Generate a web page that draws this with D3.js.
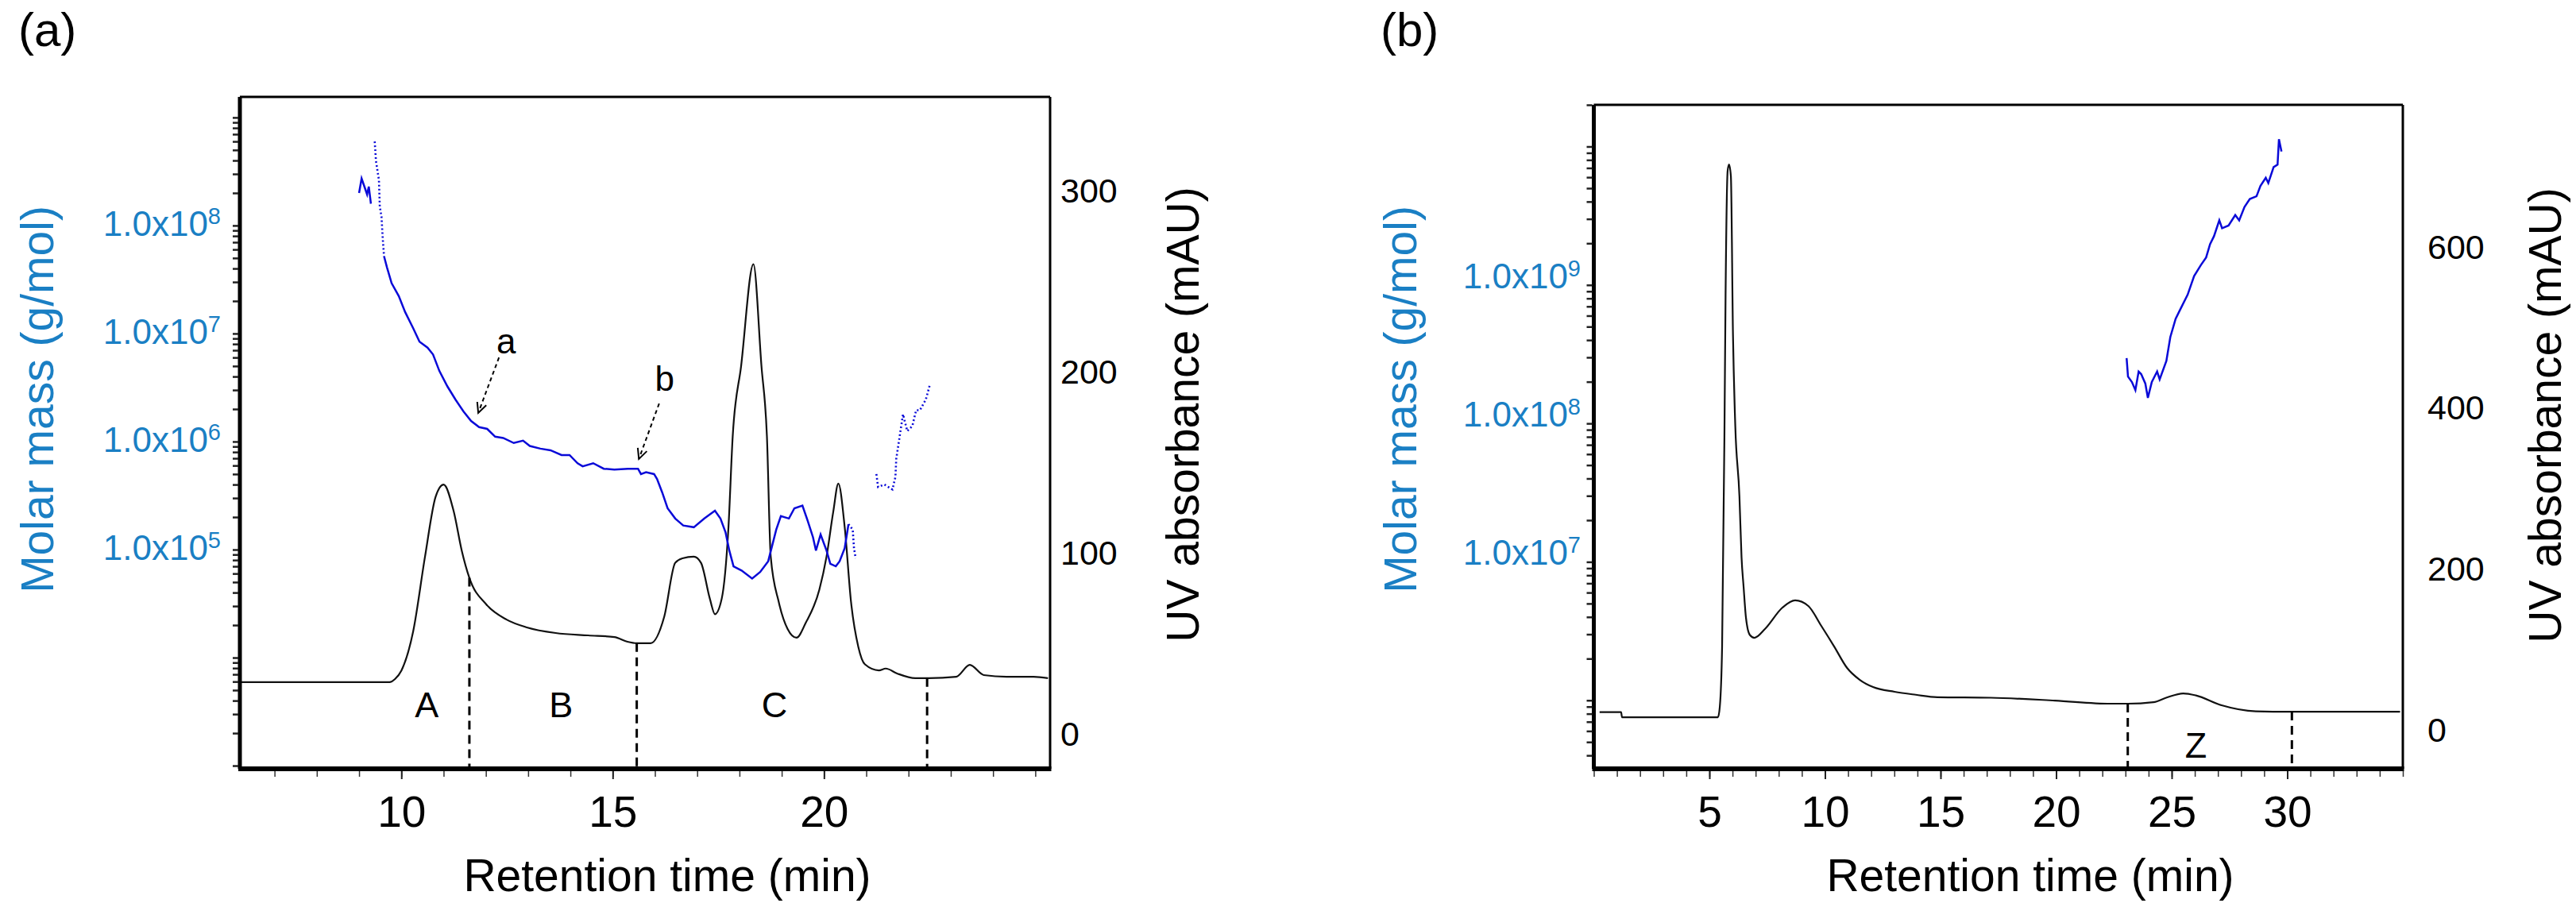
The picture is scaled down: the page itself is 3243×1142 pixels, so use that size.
<!DOCTYPE html>
<html>
<head>
<meta charset="utf-8">
<script src="https://d3js.org/d3.v7.min.js"></script>
<style>
  body { margin: 0; background: #fff; }
  svg { display: block; }
  text { font-family: "Liberation Sans", Arial, sans-serif; }
</style>
</head>
<body>
<svg id="chart" width="3243" height="1142"></svg>
<script>
// ---- panel (a): UV trace (min, mAU) ----
const uvATime  = [6.18, 9.72, 9.85, 10.0, 10.28, 10.56, 10.81, 11.0, 11.24, 11.43, 11.61, 12.01, 12.49, 12.97, 13.65, 14.42, 15.04, 15.35, 15.57, 15.9, 16.22, 16.48, 16.65, 16.92, 17.09, 17.3, 17.42, 17.58, 17.74, 17.84, 18.04, 18.33, 18.52, 18.65, 18.74, 18.93, 19.14, 19.35, 19.57, 19.89, 20.06, 20.22, 20.34, 20.49, 20.64, 20.81, 20.97, 21.3, 21.46, 21.73, 22.16, 22.48, 23.13, 23.45, 23.78, 24.32, 24.96, 25.3];
const uvAValue = [28.5, 28.5, 30.2, 34.8, 56.5, 97.7, 130.7, 137.5, 122.6, 101, 86, 71.4, 63, 58.7, 55.6, 54.3, 53.4, 50.8, 50, 50, 64.6, 94.3, 96.8, 97.7, 94.3, 74.5, 66, 74.5, 114, 164, 203, 259, 203, 164, 97.7, 72.7, 57.8, 53, 61.3, 79.5, 97.7, 122.6, 138, 114, 72.7, 48.2, 38.3, 35, 36, 33.3, 30.7, 30.7, 31.5, 38, 32.4, 31.5, 31.5, 30.7];

// ---- panel (a): molar mass (min, g/mol) ----
const massAStart = [[9.00, 2.0e8], [9.06, 2.72e8], [9.19, 1.94e8], [9.23, 2.29e8], [9.28, 1.59e8]];
const massADotted = [[9.37, 6.0e8], [9.40, 3.95e8], [9.47, 2.64e8], [9.49, 1.5e8], [9.53, 1.21e8], [9.56, 7.6e7], [9.59, 5.2e7]];
const massAMain = [[9.59, 5.2e7], [9.66, 4.1e7], [9.77, 2.92e7], [9.94, 2.22e7], [10.09, 1.58e7], [10.28, 1.12e7], [10.43, 8.4e6], [10.62, 7.4e6], [10.75, 6.4e6], [10.90, 4.5e6], [11.09, 3.24e6], [11.28, 2.45e6], [11.47, 1.9e6], [11.65, 1.55e6], [11.84, 1.36e6], [12.03, 1.31e6], [12.22, 1.11e6], [12.41, 1.08e6], [12.66, 9.7e5], [12.88, 1.02e6], [13.04, 9.1e5], [13.29, 8.6e5], [13.53, 8.3e5], [13.79, 7.5e5], [13.98, 7.5e5], [14.17, 6.3e5], [14.29, 5.9e5], [14.54, 6.3e5], [14.79, 5.6e5], [15.04, 5.5e5], [15.36, 5.6e5], [15.60, 5.6e5], [15.67, 5.0e5], [15.79, 5.2e5], [15.98, 5.0e5], [16.05, 4.5e5], [16.17, 3.4e5], [16.30, 2.41e5], [16.48, 1.94e5], [16.67, 1.67e5], [16.92, 1.61e5], [17.17, 1.94e5], [17.42, 2.29e5], [17.55, 1.94e5], [17.67, 1.45e5], [17.76, 9.8e4], [17.86, 7.0e4], [18.05, 6.4e4], [18.30, 5.4e4], [18.49, 6.2e4], [18.68, 7.8e4], [18.87, 1.53e5], [18.98, 2.04e5], [19.17, 1.94e5], [19.30, 2.41e5], [19.49, 2.55e5], [19.62, 1.82e5], [19.74, 1.3e5], [19.81, 9.8e4], [19.92, 1.38e5], [20.06, 9.8e4], [20.15, 7.4e4], [20.28, 7.0e4], [20.37, 7.8e4], [20.49, 1.03e5], [20.58, 1.72e5]];
const massATail = [[20.58, 1.72e5], [20.68, 1.53e5], [20.71, 1.03e5], [20.75, 8.3e4]];
const massALate = [[21.24, 5.0e5], [21.28, 3.8e5], [21.43, 4.0e5], [21.62, 3.6e5], [21.69, 4.7e5], [21.71, 6.9e5], [21.78, 1.05e6], [21.87, 1.79e6], [21.97, 1.25e6], [22.09, 1.39e6], [22.18, 1.95e6], [22.27, 1.95e6], [22.41, 2.45e6], [22.50, 3.3e6]];

// ---- panel (b): UV trace ----
const uvBTime  = [0.25, 1.18, 1.22, 5.37, 5.45, 5.55, 5.65, 5.70, 5.79, 5.85, 5.93, 6.02, 6.12, 6.30, 6.39, 6.48, 6.58, 6.75, 6.95, 7.41, 8.16, 8.71, 9.28, 9.84, 10.40, 10.95, 11.51, 12.08, 13.01, 13.93, 14.86, 17.18, 19.95, 22.35, 23.1, 24.21, 24.76, 25.5, 26.05, 27.16, 28.64, 30.12, 34.88];
const uvBValue = [21.1, 21.1, 14.8, 14.8, 27.6, 102.6, 363, 539, 694, 701.7, 687, 490.5, 377, 289, 214, 176.7, 139, 117, 113.5, 124.6, 151, 160, 153, 128.3, 102.6, 76.3, 61.2, 52.3, 46.4, 42.7, 39.7, 39, 35.5, 31.6, 31.6, 33.5, 39, 44.4, 41.9, 29.6, 22.2, 21.7, 21.7];

// ---- panel (b): molar mass ----
const massB = [[23.05, 2.96e8], [23.11, 2.18e8], [23.28, 1.99e8], [23.43, 1.74e8], [23.57, 2.37e8], [23.68, 2.27e8], [23.86, 1.94e8], [23.97, 1.53e8], [24.14, 1.99e8], [24.37, 2.37e8], [24.48, 2.08e8], [24.77, 2.83e8], [24.94, 4.2e8], [25.17, 5.7e8], [25.34, 6.5e8], [25.69, 8.5e8], [25.97, 1.16e9], [26.26, 1.39e9], [26.49, 1.58e9], [26.66, 1.97e9], [26.83, 2.25e9], [27.06, 2.93e9], [27.18, 2.57e9], [27.46, 2.69e9], [27.75, 3.2e9], [27.92, 2.93e9], [28.15, 3.66e9], [28.38, 4.18e9], [28.67, 4.37e9], [28.84, 5.2e9], [29.07, 5.95e9], [29.18, 5.45e9], [29.41, 7.1e9], [29.58, 7.4e9], [29.64, 1.13e10], [29.75, 9.2e9]];

// ---- ticks, labels, annotations ----
const timeTicksA = [10, 15, 20];
const timeTicksB = [5, 10, 15, 20, 25, 30];
const uvTicksA = [0, 100, 200, 300];
const uvTicksB = [0, 200, 400, 600];
const massLabelsA = [1e5, 1e6, 1e7, 1e8];
const massLabelsB = [1e7, 1e8, 1e9];
const fractionsA = [{ t: 11.61, top: 86 }, { t: 15.57, top: 50 }, { t: 22.44, top: 30.7 }];
const fractionsB = [{ t: 23.1, top: 31.6 }, { t: 30.2, top: 21.7 }];
const regionNamesA = [{ t: 10.6, uv: 9, name: "A" }, { t: 13.78, uv: 9, name: "B" }, { t: 18.83, uv: 9, name: "C" }];
const regionNamesB = [{ t: 26.05, uv: -35.5, name: "Z" }];
const arrowsA = [
  { tipT: 11.82, tipM: 1.84e6, tailT: 12.31, tailM: 6.0e6, labT: 12.48, labM: 6.5e6, name: "a" },
  { tipT: 15.62, tipM: 6.9e5, tailT: 16.10, tailM: 2.25e6, labT: 16.23, labM: 2.95e6, name: "b" }
];

const svg = d3.select("#chart");
const blueText = "#1a7fc4";
const blueLine = "#0a0ad8";

function drawPanel(p) {
  const x = d3.scaleLinear().domain(p.xDomain).range([p.left, p.right]);
  const yUV = d3.scaleLinear().domain(p.uvDomain).range([p.bottom, p.top]);
  const yM = d3.scaleLog().domain(p.massDomain).range([p.bottom, p.top]);
  const g = svg.append("g");

  g.append("clipPath").attr("id", "clip-" + p.id)
    .append("rect")
    .attr("x", p.left).attr("y", p.top)
    .attr("width", p.right - p.left).attr("height", p.bottom - p.top);
  const plot = g.append("g").attr("clip-path", `url(#clip-${p.id})`);

  // UV chromatogram
  const uvLine = d3.line()
    .x(d => x(d[0])).y(d => yUV(d[1]))
    .curve(d3.curveMonotoneX);
  plot.append("path")
    .datum(d3.zip(p.uvTime, p.uvValue))
    .attr("d", uvLine)
    .attr("fill", "none").attr("stroke", "#111").attr("stroke-width", 2.2);

  // molar mass traces
  const mLine = d3.line().x(d => x(d[0])).y(d => yM(d[1]));
  p.mass.forEach(seg => {
    plot.append("path")
      .datum(seg.points)
      .attr("d", mLine)
      .attr("fill", "none")
      .attr("stroke", blueLine)
      .attr("stroke-width", seg.dotted ? 2.6 : 2.5)
      .attr("stroke-dasharray", seg.dotted ? "2,3" : null);
  });

  // fraction cut lines
  g.selectAll(null).data(p.fractions).join("line")
    .attr("x1", d => x(d.t)).attr("x2", d => x(d.t))
    .attr("y1", d => yUV(d.top)).attr("y2", p.bottom)
    .attr("stroke", "#000").attr("stroke-width", 3).attr("stroke-dasharray", "11,7");

  g.selectAll(null).data(p.regions).join("text")
    .attr("x", d => x(d.t)).attr("y", d => yUV(d.uv))
    .attr("text-anchor", "middle").attr("font-size", 45)
    .text(d => d.name);

  // arrows
  (p.arrows || []).forEach(a => {
    const x1 = x(a.tailT), y1 = yM(a.tailM), x2 = x(a.tipT), y2 = yM(a.tipM);
    g.append("line")
      .attr("x1", x1).attr("y1", y1).attr("x2", x2).attr("y2", y2)
      .attr("stroke", "#000").attr("stroke-width", 2).attr("stroke-dasharray", "5,4");
    const ang = Math.atan2(y1 - y2, x1 - x2);
    const head = [ang - 0.45, ang + 0.45].map(b => [x2 + 14 * Math.cos(b), y2 + 14 * Math.sin(b)]);
    g.append("path")
      .attr("d", `M${head[0]}L${x2},${y2}L${head[1]}`)
      .attr("fill", "none").attr("stroke", "#000").attr("stroke-width", 2);
    g.append("text")
      .attr("x", x(a.labT)).attr("y", yM(a.labM))
      .attr("text-anchor", "middle").attr("font-size", 44)
      .text(a.name);
  });

  // frame
  const frame = [
    [p.left, p.top, p.right, p.top, 3],
    [p.right, p.top, p.right, p.bottom, 3],
    [p.left, p.top, p.left, p.bottom, 5],
    [p.left - 2, p.bottom, p.right + 1.5, p.bottom, 6]
  ];
  g.selectAll(null).data(frame).join("line")
    .attr("x1", d => d[0]).attr("y1", d => d[1]).attr("x2", d => d[2]).attr("y2", d => d[3])
    .attr("stroke", "#000").attr("stroke-width", d => d[4]);

  // bottom axis: minor ticks every minute, labelled majors
  const minor = d3.range(Math.ceil(p.xDomain[0]), Math.floor(p.xDomain[1]) + 1);
  g.append("g")
    .attr("transform", `translate(0,${p.bottom + 3})`)
    .call(d3.axisBottom(x).tickValues(minor).tickSize(7).tickFormat(""))
    .call(a => a.select(".domain").remove())
    .selectAll("line").attr("stroke", "#333").attr("stroke-width", 1.5);
  g.append("g")
    .attr("transform", `translate(0,${p.bottom + 3})`)
    .call(d3.axisBottom(x).tickValues(p.timeTicks).tickSize(10).tickPadding(21))
    .call(a => a.select(".domain").remove())
    .call(a => a.selectAll("line").attr("stroke", "#222").attr("stroke-width", 2))
    .call(a => a.selectAll("text").attr("font-size", 55).attr("fill", "#000")
      .attr("font-family", "'Liberation Sans', Arial, sans-serif"));

  // left log axis ticks
  g.append("g")
    .attr("transform", `translate(${p.left - 2},0)`)
    .call(d3.axisLeft(yM).tickValues(yM.ticks()).tickSize(7).tickFormat(""))
    .call(a => a.select(".domain").remove())
    .selectAll("line").attr("stroke", "#222").attr("stroke-width", 2.5);

  // left labels 1.0x10^n
  const ml = g.selectAll(null).data(p.massLabels).join("text")
    .attr("x", p.massLabelX).attr("y", d => yM(d) + p.massLabelShift)
    .attr("text-anchor", "end").attr("fill", blueText).attr("font-size", 44)
    .attr("dy", "0.36em");
  ml.append("tspan").text("1.0x10");
  ml.append("tspan").attr("font-size", 29).attr("dy", -15)
    .text(d => Math.round(Math.log10(d)));

  // right UV labels
  g.selectAll(null).data(p.uvTicks).join("text")
    .attr("x", p.right + p.uvLabelGap).attr("y", d => yUV(d))
    .attr("dy", "0.36em").attr("font-size", 43)
    .text(d => d);

  // axis titles
  g.append("text")
    .attr("x", p.xTitle[0]).attr("y", p.xTitle[1])
    .attr("text-anchor", "middle").attr("font-size", 57)
    .text("Retention time (min)");
  g.append("text")
    .attr("transform", `translate(${p.massTitle[0]},${p.massTitle[1]}) rotate(-90)`)
    .attr("text-anchor", "middle").attr("font-size", 57).attr("fill", blueText)
    .text("Molar mass (g/mol)");
  g.append("text")
    .attr("transform", `translate(${p.uvTitle[0]},${p.uvTitle[1]}) rotate(-90)`)
    .attr("text-anchor", "middle").attr("font-size", 57)
    .text("UV absorbance (mAU)");

  g.append("text")
    .attr("x", p.tag[0]).attr("y", p.tag[1])
    .attr("font-size", 60)
    .text(p.tagText);
}

drawPanel({
  id: "a", left: 302, right: 1322, top: 122, bottom: 968,
  xDomain: [6.18, 25.35], uvDomain: [-19.3, 351.3], massDomain: [935, 1.55e9],
  uvTime: uvATime, uvValue: uvAValue,
  mass: [
    { points: massAStart, dotted: false },
    { points: massADotted, dotted: true },
    { points: massAMain, dotted: false },
    { points: massATail, dotted: true },
    { points: massALate, dotted: true }
  ],
  fractions: fractionsA, regions: regionNamesA, arrows: arrowsA,
  timeTicks: timeTicksA, uvTicks: uvTicksA, massLabels: massLabelsA,
  massLabelX: 278, massLabelShift: -3, uvLabelGap: 13,
  xTitle: [840, 1122], massTitle: [67, 503], uvTitle: [1509, 522],
  tag: [23, 58], tagText: "(a)"
});

drawPanel({
  id: "b", left: 2006.5, right: 3025, top: 132, bottom: 968,
  xDomain: [0, 35], uvDomain: [-49.3, 775.7], massDomain: [3.2e5, 2.0e10],
  uvTime: uvBTime, uvValue: uvBValue,
  mass: [{ points: massB, dotted: false }],
  fractions: fractionsB, regions: regionNamesB, arrows: [],
  timeTicks: timeTicksB, uvTicks: uvTicksB, massLabels: massLabelsB,
  massLabelX: 1990, massLabelShift: -12, uvLabelGap: 31,
  xTitle: [2556, 1122], massTitle: [1783, 503], uvTitle: [3224, 523],
  tag: [1738, 58], tagText: "(b)"
});
</script>
</body>
</html>
